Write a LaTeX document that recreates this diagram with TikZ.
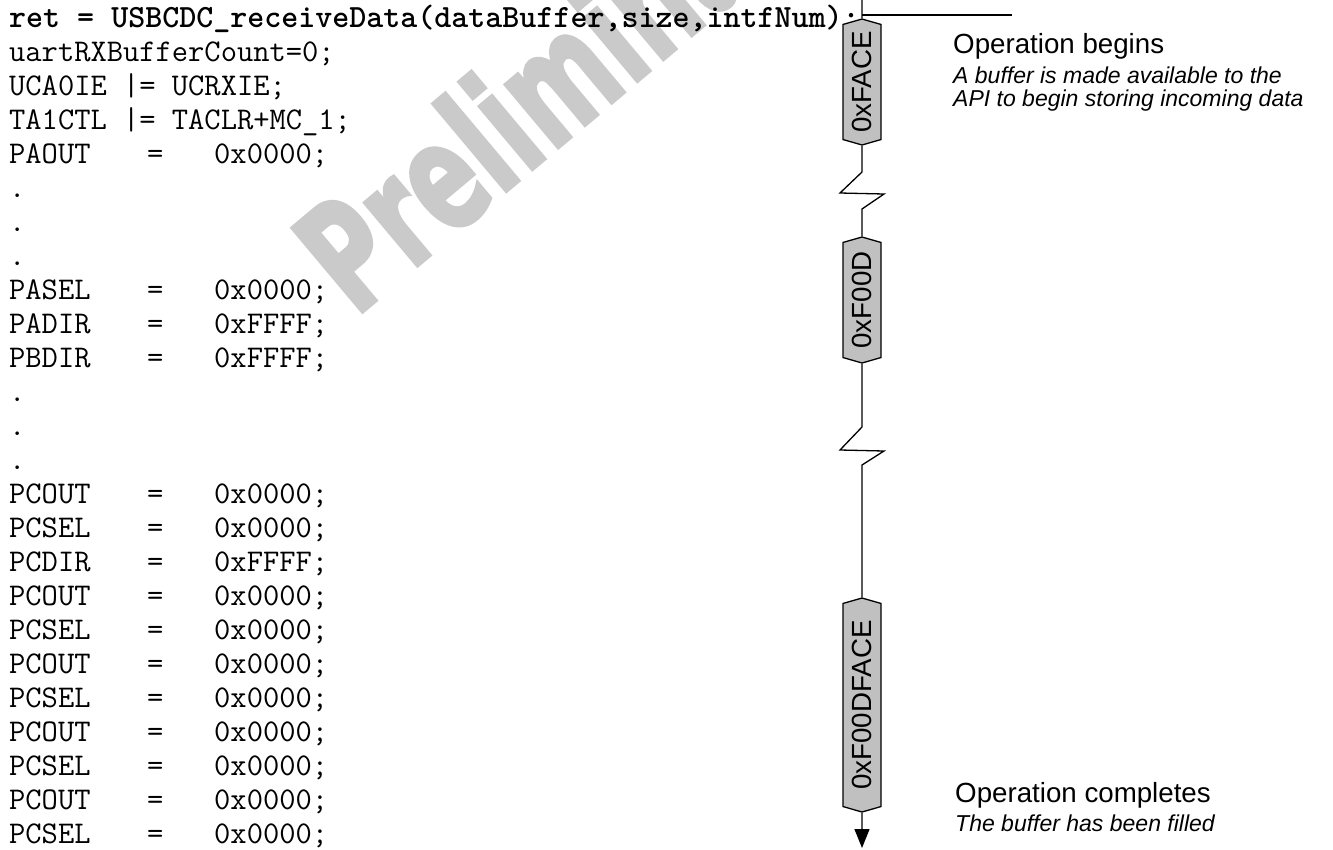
\documentclass[tikz,border=0pt]{standalone}
\usepackage{fontspec}
\setmainfont{Liberation Sans}
\newfontfamily\filigranefont{DejaVu Sans}[BoldFeatures={FakeBold=2.5}]
\usepackage{xcolor}
\definecolor{grisvaleur}{HTML}{C0C0C0}
\definecolor{grisfiligrane}{HTML}{CACACA}
\usepackage{tikz}
\usetikzlibrary{arrows.meta,shapes.symbols}

\newcommand{\codefont}{\ttfamily\fontsize{31.6}{34}\selectfont}
\newcommand{\codegras}{\ttfamily\bfseries\fontsize{32.4}{34}\selectfont}
\newcommand{\titrefont}{\fontsize{27.7}{34}\selectfont}
\newcommand{\notefont}{\itshape\fontsize{23}{23}\selectfont}

\begin{document}
\begin{tikzpicture}[x=1pt,y=-1pt,
  code/.style={anchor=base west,inner sep=0pt,font=\codefont},
  valeur/.style={shape=signal,signal to=east and west,signal pointer angle=148,
    draw,line width=1.3pt,fill=grisvaleur,rotate=90,minimum height=38pt,
    inner sep=0pt,font=\titrefont},
  trait/.style={line width=1.3pt},
  texte/.style={anchor=base west,inner sep=0pt}]
\useasboundingbox (0,0) rectangle (1333,849);
% filigrane
\begin{scope}
  \clip (0,0) rectangle (1333,849);
  \node[anchor=base west,inner sep=0pt,rotate=40,xscale=0.66,text=grisfiligrane,
    font=\filigranefont\bfseries\fontsize{150}{150}\selectfont] (filigrane) at (355,318) {Preliminary};
\end{scope}
% lignes de code
\node[code,font=\codegras] (ret) at (9,27) {ret = USBCDC\_receiveData(dataBuffer,size,intfNum);};
\node[code] (uart) at (9,61) {uartRXBufferCount=0;};
\node[code] (ucaie) at (9,95) {UCA0IE |= UCRXIE;};
\node[code] (tactl) at (9,129) {TA1CTL |= TACLR+MC\_1;};
\foreach \i/\nom/\val in {4/PAOUT/0x0000,8/PASEL/0x0000,9/PADIR/0xFFFF,10/PBDIR/0xFFFF,
    14/PCOUT/0x0000,15/PCSEL/0x0000,16/PCDIR/0xFFFF,17/PCOUT/0x0000,18/PCSEL/0x0000,
    19/PCOUT/0x0000,20/PCSEL/0x0000,21/PCOUT/0x0000,22/PCSEL/0x0000,23/PCOUT/0x0000,
    24/PCSEL/0x0000}{
  \node[code] (nom\i) at (9,{27+34*\i}) {\nom};
  \node[code] (egal\i) at (147,{27+34*\i}) {=};
  \node[code] (val\i) at (214,{27+34*\i}) {\val;};
}
\foreach \i in {5,6,7,11,12,13}
  \node[code] (pt\i) at (9,{27+34*\i}) {.};
% ligne du temps
\coordinate (haut) at (862,0);
\coordinate (coin) at (862,15);
\coordinate (fin) at (1012,15);
\coordinate (cassureA) at (862,172);
\coordinate (cassureB) at (862,427);
\coordinate (bas) at (862,848);
\node[valeur,minimum width=126pt] (face) at (862,82) {0xFACE};
\node[valeur,minimum width=126pt] (food) at (862,300) {0xF00D};
\node[valeur,minimum width=214pt] (foodface) at (862,705) {0xF00DFACE};
\draw[trait] (haut) -- (face);
\draw[trait] (coin) -- (fin);
\draw[trait] (face) -- (cassureA) -- ++(-22,21) -- ++(44,1) -- ++(-22,15) -- (food);
\draw[trait] (food) -- (cassureB) -- ++(-22,23) -- ++(44,1) -- ++(-22,14) -- (foodface);
\draw[trait,-{Triangle[length=19pt,width=15pt]}] (foodface) -- (bas);
% descriptions
\node[texte,font=\titrefont] (debut) at (953,53) {Operation begins};
\node[texte,font=\notefont] (debutA) at (953,83) {A buffer is made available to the};
\node[texte,font=\notefont] (debutB) at (953,106) {API to begin storing incoming data};
\node[texte,font=\titrefont] (finop) at (955,802) {Operation completes};
\node[texte,font=\notefont] (finopA) at (955,831) {The buffer has been filled};
\end{tikzpicture}
\end{document}
